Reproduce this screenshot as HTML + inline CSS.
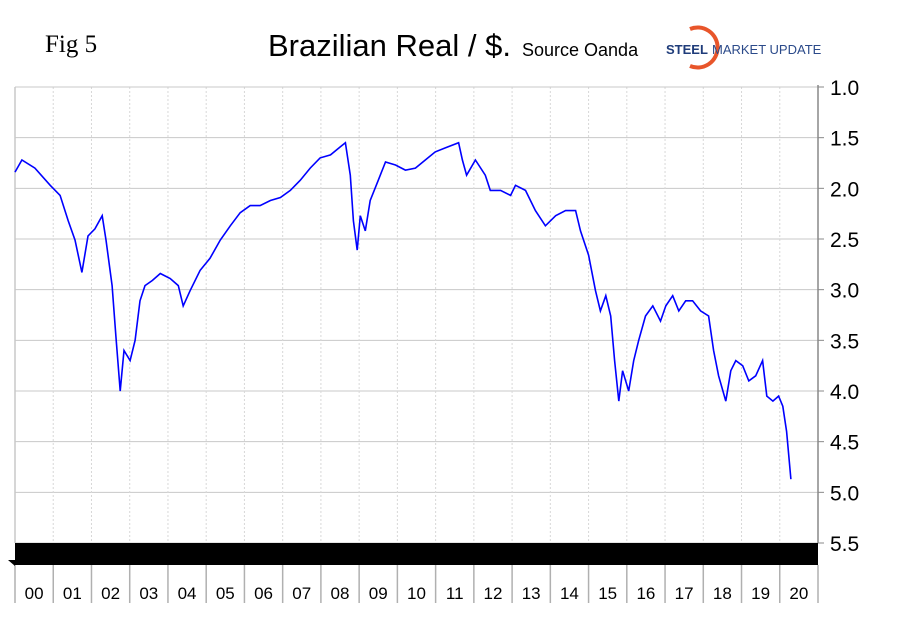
<!DOCTYPE html>
<html><head><meta charset="utf-8"><style>
body{margin:0;background:#fff;width:910px;height:622px;overflow:hidden}
svg{display:block}
</style></head><body>
<svg id="chart" width="910" height="622" xmlns="http://www.w3.org/2000/svg">
<text x="45" y="52" font-family="Liberation Serif, serif" font-size="25">Fig 5</text>
<text x="268" y="56" font-family="Liberation Sans, sans-serif" font-size="31">Brazilian Real / $.</text>
<text x="522" y="56" font-family="Liberation Sans, sans-serif" font-size="18">Source Oanda</text>
<g>
<path d="M690,29 A20,20 0 1 1 690,66" fill="none" stroke="#e8552a" stroke-width="4"/>
<text x="666" y="54" font-family="Liberation Sans, sans-serif" font-size="13" font-weight="bold" fill="#1f3c7a">STEEL</text>
<text x="712" y="54" font-family="Liberation Sans, sans-serif" font-size="13" fill="#2b4a8a">MARKET UPDATE</text>
</g>
<g id="grid"></g>
<g id="axes"></g>
<path id="line" fill="none" stroke="#0000ff" stroke-width="1.6"/>
</svg>
<script>
const years=[0,.18,.52,.92,1.18,1.39,1.57,1.75,1.91,2.09,2.28,2.38,2.54,2.64,2.75,2.85,3.01,3.14,3.27,3.4,3.59,3.8,4.06,4.27,4.4,4.58,4.84,5.1,5.37,5.63,5.89,6.15,6.41,6.68,6.94,7.2,7.46,7.72,7.98,8.25,8.51,8.64,8.77,8.85,8.95,9.03,9.16,9.29,9.5,9.69,9.95,10.21,10.47,10.73,10.99,11.26,11.6,11.7,11.81,12.04,12.3,12.43,12.7,12.96,13.09,13.35,13.61,13.87,14.14,14.4,14.66,14.79,15,15.18,15.31,15.45,15.58,15.68,15.79,15.89,16.05,16.18,16.31,16.49,16.68,16.88,17.02,17.2,17.36,17.54,17.72,17.93,18.14,18.27,18.4,18.59,18.72,18.85,19.03,19.19,19.37,19.55,19.66,19.82,19.97,20.08,20.18,20.29];
const rates=[1.84,1.72,1.80,1.97,2.07,2.32,2.51,2.83,2.47,2.40,2.27,2.51,2.96,3.46,4.0,3.60,3.70,3.50,3.11,2.96,2.91,2.84,2.89,2.96,3.16,3.01,2.81,2.69,2.51,2.37,2.24,2.17,2.17,2.12,2.09,2.02,1.92,1.80,1.70,1.67,1.59,1.55,1.87,2.32,2.61,2.27,2.42,2.12,1.92,1.74,1.77,1.82,1.80,1.72,1.64,1.60,1.55,1.72,1.87,1.72,1.87,2.02,2.02,2.07,1.97,2.02,2.22,2.37,2.27,2.22,2.22,2.42,2.66,3.01,3.21,3.06,3.26,3.70,4.10,3.80,4.0,3.70,3.50,3.26,3.16,3.31,3.16,3.06,3.21,3.11,3.11,3.21,3.26,3.60,3.85,4.10,3.80,3.70,3.75,3.90,3.85,3.70,4.05,4.10,4.05,4.15,4.40,4.87];
const yTicks=[1.0,1.5,2.0,2.5,3.0,3.5,4.0,4.5,5.0,5.5];
const yearLabels=["00","01","02","03","04","05","06","07","08","09","10","11","12","13","14","15","16","17","18","19","20"];
const L=15,R=818,T=87,B=543;
const xs=t=>L+(R-L)*t/21;
const ys=v=>T+(B-T)*(v-1)/4.5;
const NS="http://www.w3.org/2000/svg";
const grid=document.getElementById('grid'),axes=document.getElementById('axes');
function mk(tag,attrs,parent){const e=document.createElementNS(NS,tag);for(const k in attrs)e.setAttribute(k,attrs[k]);parent.appendChild(e);return e;}
yTicks.forEach(v=>{
  const g=mk('line',{x1:L,x2:R,y1:ys(v),y2:ys(v),stroke:'#c8c8c8','stroke-width':1},grid);
  
  
  mk('line',{x1:R,x2:R+6,y1:ys(v),y2:ys(v),stroke:'#888'},axes);
  const t=mk('text',{x:830,y:ys(v)+8,'font-family':'Liberation Sans, sans-serif','font-size':21},axes);
  t.textContent=v.toFixed(1);
  
  
});
yearLabels.forEach((lab,i)=>{
  if(i>0){const g=mk('line',{x1:xs(i),x2:xs(i),y1:T,y2:B,stroke:'#d8d8d8','stroke-dasharray':'2,2'},grid);
  
  }
  mk('line',{x1:xs(i),x2:xs(i),y1:565,y2:603,stroke:'#b0b0b0','stroke-width':1.5},axes);
  const t=mk('text',{x:xs(i)+19.1,y:599,'text-anchor':'middle','font-family':'Liberation Sans, sans-serif','font-size':17},axes);
  t.textContent=lab;
  
  
});
mk('line',{x1:R,x2:R,y1:565,y2:603,stroke:'#b0b0b0','stroke-width':1.5},axes);
mk('line',{x1:L,x2:R,y1:T,y2:T,stroke:'#c8c8c8'},axes);
mk('line',{x1:L,x2:L,y1:T,y2:B,stroke:'#c8c8c8','stroke-width':1.5},axes);
mk('line',{x1:R,x2:R,y1:T-2,y2:B,stroke:'#888','stroke-width':1.5},axes);
const band=mk('rect',{x:L,y:B,width:R-L,height:22,fill:'#000'},axes);


mk('polygon',{points:`8,560 ${L},560 ${L},566`,fill:'#000'},axes);
let d='';years.forEach((t,i)=>{d+=(i?'L':'M')+xs(t).toFixed(1)+','+ys(rates[i]).toFixed(1);});
document.getElementById('line').setAttribute('d',d);
</script>
</body></html>
